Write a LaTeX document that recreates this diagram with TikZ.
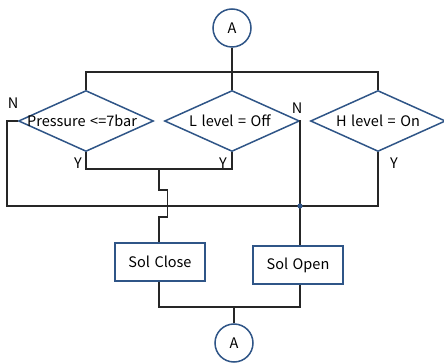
\documentclass[tikz,border=0pt]{standalone}
\usepackage{fontspec}
\setmainfont{Noto Sans CJK KR}[WordSpace=1.4]
\usetikzlibrary{shapes.geometric}
\definecolor{shapeblue}{HTML}{2F5587}
\definecolor{linegray}{HTML}{262626}
\begin{document}
\begin{tikzpicture}[x=1pt, y=-1pt, font=\fontsize{14.5}{17}\selectfont,
				cond/.style = {diamond, draw=shapeblue, line width=1.5pt, fill=white, inner sep=0pt, minimum width=135pt, minimum height=61pt},
				act/.style = {rectangle, draw=shapeblue, line width=1.5pt, fill=white, minimum width=90pt, minimum height=38pt},
				conn/.style = {circle, draw=shapeblue, line width=1.5pt, fill=white, minimum size=38pt, inner sep=0pt},
				wire/.style = {draw=linegray, line width=1.1pt},
				letter/.style = {inner sep=0pt}]

				\useasboundingbox (0,0) rectangle (444,363);

				\node[conn] (topA) at (232,28) {A};
				\node[cond] (press) at (86,121) {\makebox[0pt]{\hspace*{-8pt}Pressure <=7bar}};
				\node[cond] (llev) at (232,121) {\makebox[0pt]{\hspace*{-4pt}L level = Off}};
				\node[cond] (hlev) at (378,121) {\makebox[0pt]{H level = On}};
				\node[act] (close) at (160,262) {Sol Close};
				\node[act] (open) at (298,265) {Sol Open};
				\node[conn] (botA) at (234,343) {A};

				\coordinate (split) at (232,72);
				\coordinate (ymid) at (159,169);
				\coordinate (loopL) at (7,206);
				\coordinate (jn) at (300,206);
				\coordinate (bjoin) at (234,307);

				% top split
				\draw[wire] (topA) -- (split);
				\draw[wire] (press.north) -- (press.north |- split) -- (hlev.north |- split) -- (hlev.north);
				\draw[wire] (split) -- (llev.north);

				% yes branches
				\draw[wire] (press.south) |- (llev.south |- ymid) -- (llev.south);
				\draw[wire] (ymid) -- ++(0,21) -- ++(8.5,0) -- ++(0,27) -- ++(-8.5,0) -- (close.north -| ymid);

				% no branches
				\draw[wire] (press.west) -| (loopL) -- (hlev.south |- loopL) -- (hlev.south);
				\draw[wire] (llev.east) -| (jn) -- (open.north -| jn);
				\fill[shapeblue] (jn) circle (2.6pt);

				% outputs
				\draw[wire] (close.south -| ymid) |- (bjoin) -| (open.south -| jn);
				\draw[wire] (bjoin) -- (botA);

				\node[letter] (y1) at (78,163) {Y};
				\node[letter] (y2) at (223,163) {Y};
				\node[letter] (y3) at (394,163) {Y};
				\node[letter] (n1) at (13,103) {N};
				\node[letter] (n2) at (297,108) {N};

			\end{tikzpicture}
\end{document}
